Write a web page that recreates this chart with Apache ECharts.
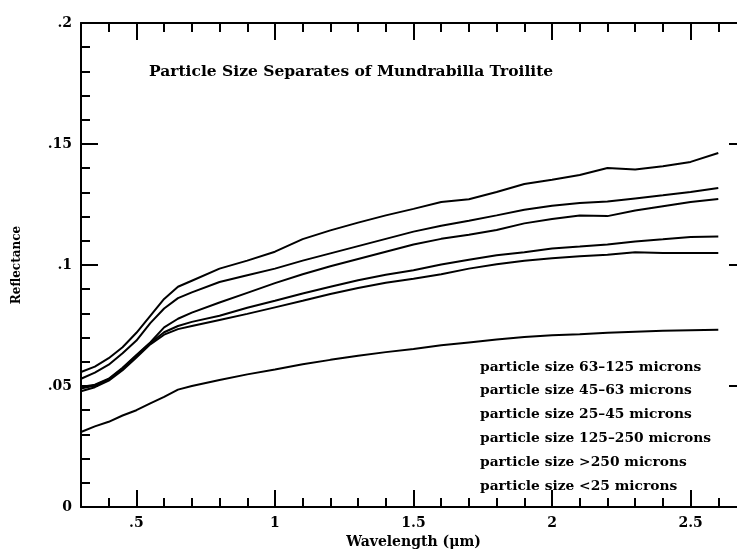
<!DOCTYPE html>
<html>
<head>
<meta charset="utf-8">
<script src="https://cdn.jsdelivr.net/npm/echarts@6/dist/echarts.min.js"></script>
<style>
  html, body { margin: 0; padding: 0; background: #fff; }
  #chart { width: 737px; height: 550px; }
</style>
</head>
<body>
<div id="chart"></div>
<script>
// Wavelength samples (µm)
const wavelengths = [0.30, 0.35, 0.40, 0.45, 0.50, 0.55, 0.60, 0.65, 0.70, 0.80, 0.90, 1.00,
  1.10, 1.20, 1.30, 1.40, 1.50, 1.60, 1.70, 1.80, 1.90, 2.00, 2.10, 2.20, 2.30, 2.40, 2.50, 2.60];

// Reflectance of each particle size separate
const size63to125 = [0.0558, 0.0580, 0.0615, 0.0660, 0.0720, 0.0790, 0.0860, 0.0910, 0.0935, 0.0985, 0.1018, 0.1055,
  0.1107, 0.1143, 0.1175, 0.1205, 0.1232, 0.1260, 0.1272, 0.1302, 0.1335, 0.1352, 0.1372, 0.1401, 0.1395, 0.1408, 0.1426, 0.1463];
const size45to63 = [0.0530, 0.0555, 0.0588, 0.0635, 0.0688, 0.0760, 0.0820, 0.0863, 0.0887, 0.0930, 0.0958, 0.0985,
  0.1018, 0.1048, 0.1078, 0.1108, 0.1138, 0.1162, 0.1183, 0.1205, 0.1228, 0.1245, 0.1256, 0.1262, 0.1275, 0.1288, 0.1302, 0.1318];
const size25to45 = [0.0496, 0.0505, 0.0530, 0.0575, 0.0628, 0.0680, 0.0742, 0.0778, 0.0803, 0.0845, 0.0885, 0.0925,
  0.0962, 0.0995, 0.1025, 0.1055, 0.1085, 0.1108, 0.1125, 0.1145, 0.1172, 0.1190, 0.1205, 0.1202, 0.1225, 0.1243, 0.1260, 0.1273];
const size125to250 = [0.0490, 0.0502, 0.0528, 0.0572, 0.0625, 0.0678, 0.0722, 0.0748, 0.0765, 0.0790, 0.0823, 0.0852,
  0.0882, 0.0910, 0.0937, 0.0960, 0.0978, 0.1002, 0.1022, 0.1040, 0.1053, 0.1068, 0.1076, 0.1085, 0.1097, 0.1106, 0.1116, 0.1118];
const sizeOver250 = [0.0478, 0.0495, 0.0522, 0.0565, 0.0618, 0.0672, 0.0712, 0.0735, 0.0748, 0.0773, 0.0798, 0.0825,
  0.0852, 0.0880, 0.0905, 0.0927, 0.0943, 0.0962, 0.0985, 0.1003, 0.1018, 0.1028, 0.1036, 0.1042, 0.1053, 0.1050, 0.1050, 0.1050];
const sizeUnder25 = [0.0310, 0.0333, 0.0352, 0.0378, 0.0400, 0.0428, 0.0455, 0.0485, 0.0500, 0.0525, 0.0548, 0.0568,
  0.0590, 0.0608, 0.0625, 0.0640, 0.0653, 0.0668, 0.0680, 0.0692, 0.0702, 0.0710, 0.0714, 0.0720, 0.0724, 0.0728, 0.0730, 0.0732];

const seriesNames = [
  'particle size 63\u2013125 microns',
  'particle size 45\u201363 microns',
  'particle size 25\u201345 microns',
  'particle size 125\u2013250 microns',
  'particle size >250 microns',
  'particle size <25 microns'
];
const seriesValues = [size63to125, size45to63, size25to45, size125to250, sizeOver250, sizeUnder25];

// Axis ticks and their labels
const xMajorTicks = [0.5, 1, 1.5, 2, 2.5];
const xTickLabels = ['.5', '1', '1.5', '2', '2.5'];
const xMinorTicks = [0.4, 0.5, 0.6, 0.7, 0.8, 0.9, 1.0, 1.1, 1.2, 1.3, 1.4, 1.5, 1.6, 1.7, 1.8, 1.9,
  2.0, 2.1, 2.2, 2.3, 2.4, 2.5, 2.6];
const yMajorTicks = [0, 0.05, 0.1, 0.15, 0.2];
const yTickLabels = ['0', '.05', '.1', '.15', '.2'];
const yMinorTicks = [0.01, 0.02, 0.03, 0.04, 0.05, 0.06, 0.07, 0.08, 0.09, 0.10, 0.11, 0.12, 0.13,
  0.14, 0.15, 0.16, 0.17, 0.18, 0.19];

const FONT = 'DejaVu Serif';
const INK = '#000';

function tickAxis(position, ticks, len, withLine, labels, values) {
  const axis = {
    type: 'value',
    position: position,
    axisLine: { show: withLine, onZero: false, lineStyle: { color: INK, width: 2 } },
    axisTick: { show: true, inside: true, length: len, customValues: ticks,
      lineStyle: { color: INK, width: 2 } },
    axisLabel: { show: false },
    splitLine: { show: false }
  };
  if (labels) {
    axis.axisLabel = {
      show: true,
      customValues: values,
      color: INK,
      fontFamily: FONT,
      fontWeight: 'bold',
      fontSize: 14,
      formatter: function (v) {
        for (let i = 0; i < values.length; i++) {
          if (Math.abs(values[i] - v) < 1e-9) return labels[i];
        }
        return '';
      }
    };
  }
  return axis;
}

const xAxes = [
  tickAxis('bottom', xMinorTicks, 9, true, xTickLabels, xMajorTicks),
  tickAxis('bottom', xMajorTicks, 17, false),
  tickAxis('top', xMinorTicks, 9, true),
  tickAxis('top', xMajorTicks, 17, false)
];
xAxes.forEach(function (a) { a.min = 0.3; a.max = 2.7; });
xAxes[0].axisLabel.margin = 9;
xAxes[0].name = 'Wavelength (\u03bcm)';
xAxes[0].nameLocation = 'middle';
xAxes[0].nameGap = 27;
xAxes[0].nameTextStyle = { color: INK, fontFamily: FONT, fontWeight: 'bold', fontSize: 14 };

const yAxes = [
  tickAxis('left', yMinorTicks, 9, true, yTickLabels, yMajorTicks),
  tickAxis('left', yMajorTicks, 17, false),
  tickAxis('right', yMinorTicks, 9, true),
  tickAxis('right', yMajorTicks, 17, false)
];
yAxes.forEach(function (a) { a.min = 0; a.max = 0.2; });
yAxes[0].axisLabel.margin = 9;
yAxes[0].name = 'Reflectance';
yAxes[0].nameLocation = 'middle';
yAxes[0].nameGap = 58;
yAxes[0].nameTextStyle = { color: INK, fontFamily: FONT, fontWeight: 'bold', fontSize: 12 };

const series = seriesNames.map(function (name, i) {
  return {
    name: name,
    type: 'line',
    xAxisIndex: 0,
    yAxisIndex: 0,
    showSymbol: false,
    symbol: 'none',
    animation: false,
    lineStyle: { color: INK, width: 2 },
    itemStyle: { color: INK },
    data: wavelengths.map(function (w, j) { return [w, seriesValues[i][j]]; })
  };
});

const chart = echarts.init(document.getElementById('chart'), null, { renderer: 'canvas' });
chart.setOption({
  backgroundColor: '#fff',
  animation: false,
  title: {
    text: 'Particle Size Separates of Mundrabilla Troilite',
    left: 144,
    top: 59,
    textStyle: { color: INK, fontFamily: FONT, fontWeight: 'bold', fontSize: 15.5 }
  },
  legend: {
    data: seriesNames,
    orient: 'vertical',
    left: 470,
    top: 355,
    icon: 'none',
    itemWidth: 0,
    itemHeight: 14,
    itemGap: 9.8,
    selectedMode: false,
    textStyle: { color: INK, fontFamily: FONT, fontWeight: 'bold', fontSize: 13.8 }
  },
  // plot frame runs past the right edge of the canvas
  grid: { left: 81, width: 665, top: 23, height: 484, containLabel: false, outerBoundsMode: 'none' },
  xAxis: xAxes,
  yAxis: yAxes,
  series: series
});
</script>
</body>
</html>
